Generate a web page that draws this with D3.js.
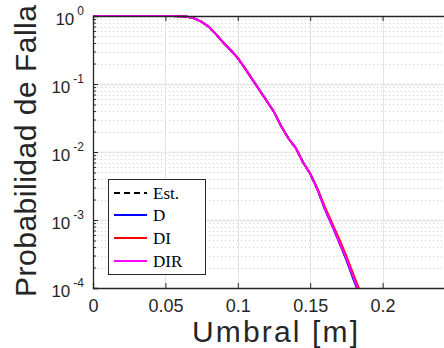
<!DOCTYPE html>
<html>
<head>
<meta charset="utf-8">
<script src="https://cdn.jsdelivr.net/npm/d3@7"></script>
<style>
  html, body { margin: 0; padding: 0; background: #ffffff; }
  svg { display: block; }
</style>
</head>
<body>
<div id="chart"></div>
<script>
// Threshold values [m]
const umbral = [0, 0.05, 0.055, 0.06, 0.065, 0.07, 0.075, 0.08, 0.085, 0.09, 0.095,
  0.1, 0.105, 0.11, 0.115, 0.12, 0.125, 0.13, 0.135, 0.14, 0.145,
  0.15, 0.155, 0.16, 0.165, 0.17, 0.175, 0.18, 0.185];

// Failure probability per method
const est = [1, 1, 0.998, 0.991, 0.973, 0.923, 0.822, 0.692, 0.537, 0.407, 0.316,
  0.240, 0.170, 0.117, 0.0813, 0.0562, 0.0389, 0.0240, 0.0158, 0.0115, 0.00708,
  0.00479, 0.00282, 0.00148, 0.000851, 0.000479, 0.000269, 0.000141, 0.0000759];
const serieD = [1, 1, 0.998, 0.991, 0.973, 0.923, 0.822, 0.692, 0.537, 0.407, 0.316,
  0.240, 0.170, 0.117, 0.0813, 0.0562, 0.0389, 0.0240, 0.0158, 0.0115, 0.00708,
  0.00479, 0.00282, 0.00146, 0.000840, 0.000468, 0.000257, 0.000132, 0.0000710];
const serieDI = [1, 1, 0.998, 0.991, 0.973, 0.923, 0.822, 0.692, 0.537, 0.407, 0.316,
  0.240, 0.170, 0.117, 0.0813, 0.0562, 0.0389, 0.0240, 0.0158, 0.0115, 0.00708,
  0.00485, 0.00292, 0.00158, 0.000912, 0.000525, 0.000295, 0.000155, 0.0000832];
const serieDIR = [1, 1, 0.998, 0.991, 0.973, 0.923, 0.822, 0.692, 0.537, 0.407, 0.316,
  0.240, 0.170, 0.117, 0.0813, 0.0562, 0.0389, 0.0240, 0.0158, 0.0115, 0.00708,
  0.00479, 0.00282, 0.00148, 0.000851, 0.000479, 0.000269, 0.000141, 0.0000759];

const seriesNames = ["Est.", "D", "DI", "DIR"];
const seriesColors = ["#000000", "#0000ff", "#ff0000", "#ff00ff"];
const seriesValues = [est, serieD, serieDI, serieDIR];

const xTicks = [0, 0.05, 0.1, 0.15, 0.2];
const xTickLabels = ["0", "0.05", "0.1", "0.15", "0.2"];
const yTicks = [1, 0.1, 0.01, 0.001, 0.0001];
const yExponents = ["0", "-1", "-2", "-3", "-4"];

const W = 444, H = 348;
const m = { left: 93, top: 16, right: 455, bottom: 288 };

const svg = d3.select("#chart").append("svg").attr("width", W).attr("height", H);

const x = d3.scaleLinear().domain([0, 0.25]).range([m.left, m.right]);
const y = d3.scaleLog().domain([1e-4, 1]).range([m.bottom, m.top]);

svg.append("defs").append("clipPath").attr("id", "plotClip")
  .append("rect").attr("x", m.left).attr("y", m.top - 2)
  .attr("width", m.right - m.left).attr("height", m.bottom - m.top + 2);

// Minor grid (y log minors)
const minorY = [];
for (let e = -4; e < 0; e++) for (let k = 2; k <= 9; k++) minorY.push(k * Math.pow(10, e));

const grid = svg.append("g");
grid.selectAll("line.minor").data(minorY).enter().append("line")
  .attr("x1", m.left).attr("x2", m.right)
  .attr("y1", d => Math.round(y(d)) + 0.5).attr("y2", d => Math.round(y(d)) + 0.5)
  .attr("stroke", "#cfcfcf").attr("stroke-width", 1).attr("stroke-dasharray", "1,3");

// Major grid
grid.selectAll("line.gx").data(xTicks.slice(1)).enter().append("line")
  .attr("x1", d => Math.round(x(d)) + 0.5).attr("x2", d => Math.round(x(d)) + 0.5)
  .attr("y1", m.top).attr("y2", m.bottom)
  .attr("stroke", "#e3e3e3").attr("stroke-width", 1);
grid.selectAll("line.gy").data(yTicks.slice(1, -1)).enter().append("line")
  .attr("x1", m.left).attr("x2", m.right)
  .attr("y1", d => Math.round(y(d)) + 0.5).attr("y2", d => Math.round(y(d)) + 0.5)
  .attr("stroke", "#e6e6e6").attr("stroke-width", 1.5);

// Curves
const line = d3.line()
  .x((d, i) => x(umbral[i]))
  .y(d => y(d));

const plot = svg.append("g").attr("clip-path", "url(#plotClip)");
seriesValues.forEach((vals, i) => {
  plot.append("path")
    .datum(vals)
    .attr("d", line)
    .attr("fill", "none")
    .attr("stroke", seriesColors[i])
    .attr("stroke-width", 2)
    .attr("stroke-dasharray", i === 0 ? "6,4" : null);
});

// Axes
const axisColor = "#262626";
const xAxis = svg.append("g").attr("transform", `translate(0,${m.bottom})`)
  .call(d3.axisBottom(x).tickValues(xTicks).tickSize(-5).tickPadding(11)
    .tickFormat((d, i) => xTickLabels[i]));
const xAxisTop = svg.append("g").attr("transform", `translate(0,${m.top})`)
  .call(d3.axisTop(x).tickValues(xTicks).tickSize(-5).tickFormat(""));

const yAxis = svg.append("g").attr("transform", `translate(${m.left},0)`)
  .call(d3.axisLeft(y).tickValues(yTicks).tickSize(-5).tickPadding(22)
    .tickFormat(() => ""));
const yMinor = svg.append("g").attr("transform", `translate(${m.left},0)`)
  .call(d3.axisLeft(y).tickValues(minorY).tickSize(-3).tickFormat(""));
yMinor.select(".domain").remove();

[xAxis, xAxisTop, yAxis, yMinor].forEach(g => {
  g.select(".domain").attr("stroke", axisColor).attr("stroke-width", 1.3);
  g.selectAll(".tick line").attr("stroke", axisColor);
});
xAxis.selectAll("text").attr("fill", "#262626")
  .style("font-family", "'Liberation Sans', Arial, sans-serif").style("font-size", "18px");

// Power-of-ten labels
yTicks.forEach((v, i) => {
  const t = svg.append("text")
    .attr("x", 84).attr("y", y(v) + 9)
    .attr("text-anchor", "end")
    .attr("fill", "#262626")
    .style("font-family", "'Liberation Sans', Arial, sans-serif")
    .style("font-size", "17px");
  t.append("tspan").text("10");
  t.append("tspan").attr("dy", -10).attr("dx", 3).style("font-size", "12px").text(yExponents[i]);
});

// Axis titles
svg.append("text")
  .attr("x", 275).attr("y", 342)
  .attr("text-anchor", "middle")
  .attr("textLength", 166).attr("lengthAdjust", "spacing")
  .attr("fill", "#262626")
  .style("font-family", "'Liberation Sans', Arial, sans-serif")
  .style("font-size", "30px")
  .text("Umbral [m]");

svg.append("text")
  .attr("transform", "translate(36,151) rotate(-90)")
  .attr("text-anchor", "middle")
  .attr("textLength", 292).attr("lengthAdjust", "spacing")
  .attr("fill", "#262626")
  .style("font-family", "'Liberation Sans', Arial, sans-serif")
  .style("font-size", "30px")
  .text("Probabilidad de Falla");

// Legend
const lg = svg.append("g");
lg.append("rect").attr("x", 108.5).attr("y", 179.5).attr("width", 97).attr("height", 95)
  .attr("fill", "#ffffff").attr("stroke", "#262626").attr("stroke-width", 1);
const rows = [193, 215, 238, 261];
seriesNames.forEach((name, i) => {
  lg.append("line").attr("x1", 114).attr("x2", 147).attr("y1", rows[i]).attr("y2", rows[i])
    .attr("stroke", seriesColors[i]).attr("stroke-width", 2)
    .attr("stroke-dasharray", i === 0 ? "6,4" : null);
  lg.append("text").attr("x", 153).attr("y", rows[i] + 6)
    .attr("fill", "#000")
    .style("font-family", "'Liberation Serif', 'Times New Roman', serif")
    .style("font-size", "17px")
    .style("font-weight", "normal")
    .text(name);
});
</script>
</body>
</html>
